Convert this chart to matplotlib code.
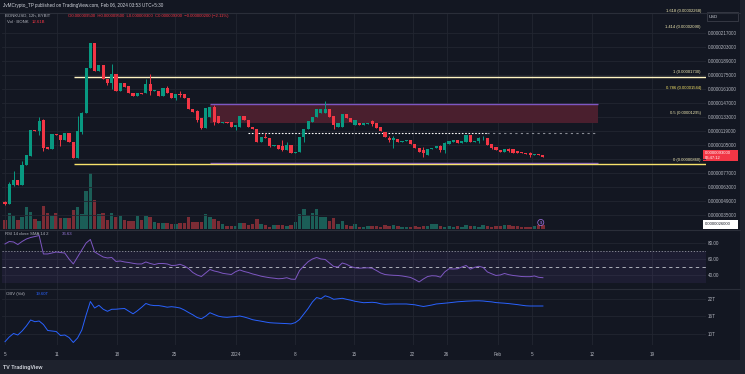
import matplotlib
matplotlib.use("Agg")
import matplotlib.pyplot as plt
from matplotlib.lines import Line2D
from matplotlib.patches import Rectangle
from matplotlib.ticker import FuncFormatter
import numpy as np

W, H = 745, 374
BG = "#131722"
PANEL = "#1e222d"
GRID = "#222631"
SEP = "#2a2e39"
TEXT = "#b2b5be"
GREEN = "#089981"
RED = "#f23645"
VOL_GREEN = "#1b5e57"
VOL_RED = "#7c2c35"
PURPLE = "#7e57c2"
BLUE = "#2962ff"

# candles, prices in 0.000001 USD
OPEN = [4.83, 4.60, 6.50, 7.00, 6.50, 8.50, 9.40, 12.00, 11.90, 13.00,
        10.30, 10.10, 11.60, 11.50, 11.00, 11.70, 10.80, 9.20, 11.80, 13.70,
        18.20, 20.70, 17.90, 18.50, 17.10, 16.70, 17.60, 15.90, 16.70, 16.40,
        15.70, 15.40, 15.70, 15.70, 16.60, 15.90, 15.90, 15.40, 16.20, 15.70,
        15.20, 15.60, 15.60, 15.20, 14.10, 13.90, 13.20, 12.20, 13.30, 14.30,
        13.40, 12.70, 12.80, 12.80, 12.30, 12.30, 13.40, 13.00, 12.30, 12.10,
        10.80, 11.30, 11.20, 10.40, 10.50, 10.40, 10.00, 10.50, 9.70, 9.80,
        11.30, 12.10, 12.80, 13.30, 13.70, 13.70, 14.10, 13.40, 12.30, 12.30,
        13.60, 13.20, 12.50, 12.70, 12.50, 12.60, 12.90, 12.70, 12.30, 11.80,
        11.20, 11.00, 11.10, 10.85, 10.95, 11.00, 10.60, 10.20, 10.00, 9.50,
        10.15, 10.20, 10.40, 10.00, 10.60, 10.80, 11.00, 10.70, 10.80, 11.50,
        10.85, 10.90, 11.05, 11.20, 10.60, 10.30, 10.00, 9.80, 10.10, 10.10,
        9.90, 9.80, 9.70, 9.70, 9.55, 9.60, 9.50]
HIGH = [4.90, 6.83, 7.90, 7.00, 8.90, 9.50, 12.00, 12.00, 13.30, 13.10,
        10.30, 11.60, 11.60, 11.50, 11.70, 11.70, 10.80, 13.40, 13.80, 18.20,
        20.70, 20.70, 18.50, 18.50, 17.10, 18.60, 17.60, 16.70, 16.70, 16.40,
        15.70, 15.70, 15.70, 17.10, 17.60, 16.00, 15.90, 16.20, 16.40, 15.70,
        15.60, 15.90, 15.60, 15.20, 14.10, 14.00, 13.20, 14.20, 14.30, 14.50,
        13.40, 12.80, 12.80, 12.80, 12.50, 13.40, 13.40, 13.00, 12.30, 12.10,
        11.30, 11.70, 11.20, 10.50, 10.50, 11.00, 10.80, 10.50, 9.80, 11.30,
        12.10, 12.90, 13.30, 14.10, 14.10, 14.90, 14.10, 13.40, 12.70, 13.60,
        13.60, 13.20, 13.00, 12.70, 12.70, 12.70, 13.00, 12.70, 12.30, 11.80,
        11.40, 11.40, 11.10, 10.90, 11.00, 11.00, 10.60, 10.20, 10.30, 10.10,
        10.20, 10.40, 10.50, 10.80, 10.90, 11.00, 11.00, 10.90, 11.50, 11.50,
        10.90, 11.30, 11.40, 11.20, 10.60, 10.30, 10.00, 10.10, 10.20, 10.10,
        9.90, 9.80, 9.70, 9.80, 9.60, 9.60, 9.50]
LOW = [4.50, 4.60, 6.40, 6.50, 6.50, 8.50, 9.40, 11.90, 11.50, 9.90,
       10.10, 10.10, 11.50, 10.40, 11.00, 10.80, 9.20, 9.20, 11.60, 13.70,
       18.20, 17.90, 17.90, 17.10, 16.50, 16.10, 15.90, 15.90, 16.30, 15.70,
       15.40, 15.40, 15.60, 15.70, 15.50, 15.90, 15.40, 15.40, 15.70, 15.20,
       15.00, 15.30, 15.20, 14.10, 13.80, 12.80, 12.10, 12.20, 13.30, 12.50,
       12.70, 12.70, 12.70, 12.30, 12.00, 12.30, 13.00, 12.30, 12.10, 10.80,
       10.80, 11.20, 10.30, 10.40, 10.10, 9.90, 10.00, 9.70, 9.70, 9.80,
       10.80, 12.10, 12.80, 13.30, 13.70, 13.70, 13.30, 12.10, 12.30, 12.30,
       13.20, 12.80, 12.50, 12.50, 12.50, 12.60, 12.40, 12.20, 11.90, 11.30,
       10.80, 10.20, 10.80, 10.85, 10.95, 10.60, 10.20, 9.80, 9.30, 9.50,
       10.15, 10.20, 9.80, 9.70, 10.60, 10.80, 10.70, 10.70, 10.80, 10.80,
       10.85, 10.70, 11.00, 10.50, 10.10, 10.00, 9.80, 9.80, 9.80, 9.70,
       9.70, 9.70, 9.65, 9.30, 9.55, 9.55, 9.30]
CLOSE = [4.60, 6.60, 7.00, 6.50, 8.50, 9.50, 12.00, 11.90, 12.90, 10.20,
         10.10, 11.60, 11.50, 11.00, 11.70, 10.80, 9.20, 11.90, 13.70, 18.20,
         20.70, 17.90, 18.50, 17.10, 16.70, 17.60, 15.90, 16.70, 16.30, 15.70,
         15.40, 15.70, 15.60, 16.60, 15.90, 16.00, 15.40, 16.20, 15.70, 15.20,
         15.60, 15.50, 15.20, 14.10, 13.80, 13.00, 12.20, 14.20, 14.30, 12.80,
         12.70, 12.80, 12.70, 12.30, 12.50, 13.40, 13.00, 12.30, 12.10, 10.80,
         11.30, 11.20, 10.40, 10.50, 10.10, 10.00, 10.50, 9.70, 9.80, 11.30,
         12.10, 12.90, 13.30, 14.10, 14.10, 14.10, 13.30, 12.50, 12.70, 13.60,
         13.20, 12.80, 13.00, 12.50, 12.70, 12.70, 12.60, 12.20, 11.90, 11.30,
         11.00, 11.20, 10.80, 10.90, 11.00, 10.60, 10.20, 9.80, 9.70, 10.10,
         10.20, 10.40, 10.00, 10.70, 10.90, 11.00, 10.70, 10.90, 11.50, 10.80,
         10.90, 11.20, 11.10, 10.50, 10.20, 10.00, 9.80, 10.10, 9.90, 9.70,
         9.70, 9.70, 9.65, 9.50, 9.60, 9.55, 9.30]
VOLUME = [9, 16, 13, 9, 12, 22, 17, 10, 8, 23, 16, 13, 16, 11, 11, 11, 19, 22, 15, 38,
          56, 29, 15, 16, 9, 16, 12, 13, 9, 8, 8, 13, 9, 13, 12, 7, 6, 6, 6, 5,
          5, 6, 6, 12, 7, 7, 7, 15, 12, 10, 8, 5, 3, 3, 3, 6, 6, 4, 5, 10,
          5, 4, 2, 4, 4, 4, 3, 4, 7, 15, 20, 14, 16, 20, 12, 12, 8, 11, 5, 8,
          4, 3, 5, 2, 2, 3, 3, 3, 2, 4, 3, 4, 3, 2, 2, 2, 3, 2, 3, 3,
          5, 5, 3, 2, 3, 2, 3, 2, 4, 3, 3, 2, 4, 3, 2, 3, 3, 4, 4, 3,
          3, 2, 2, 2, 3, 4, 4]
RSI = [78.8, 81.9, 81.3, 78.1, 81.9, 85.0, 86.9, 88.1, 89.4, 66.3,
       66.3, 67.5, 68.8, 68.1, 67.5, 60.0, 53.8, 62.5, 71.3, 80.0,
       84.4, 68.8, 65.6, 62.5, 61.3, 61.9, 56.9, 57.5, 56.3, 55.6,
       54.6, 53.8, 53.8, 56.3, 54.4, 53.1, 54.4, 54.4, 53.8, 51.9,
       52.1, 53.4, 51.3, 48.1, 43.1, 40.0, 38.1, 42.5, 46.9, 45.0,
       43.8, 42.1, 41.3, 40.6, 44.1, 46.3, 44.4, 43.1, 41.3, 40.0,
       38.5, 37.5, 36.6, 36.0, 35.3, 35.6, 36.6, 34.8, 34.6, 45.6,
       51.3, 56.6, 60.0, 61.9, 60.0, 59.4, 55.0, 50.6, 50.0, 55.0,
       53.4, 50.6, 49.0, 48.5, 48.8, 49.0, 48.5, 45.6, 42.5, 40.6,
       40.0, 39.6, 39.4, 38.8, 37.9, 36.9, 34.4, 31.3, 35.0, 38.1,
       39.1, 38.8, 37.3, 43.8, 47.8, 47.5, 47.8, 50.0, 51.9, 47.3,
       49.6, 50.9, 49.4, 43.8, 41.5, 39.4, 40.0, 41.9, 40.4, 39.4,
       38.8, 38.1, 37.9, 37.9, 38.8, 37.1, 36.6]
OBV = [7.35, 8.97, 10.17, 9.65, 11.02, 12.74, 14.80, 14.21, 14.45, 13.25,
       11.20, 11.02, 10.85, 9.48, 9.65, 8.79, 7.08, 8.62, 11.37, 16.51,
       21.14, 18.91, 19.84, 18.50, 17.78, 18.47, 18.50, 18.64, 18.74, 17.82,
       16.92, 17.95, 19.15, 20.46, 19.94, 19.74, 19.74, 19.50, 19.19, 19.36,
       19.19, 18.91, 18.23, 17.37, 16.58, 15.65, 15.21, 16.10, 17.30, 16.68,
       16.10, 15.83, 15.72, 15.86, 15.96, 16.17, 15.83, 15.41, 14.90, 14.63,
       14.39, 14.11, 13.87, 13.77, 13.70, 13.63, 13.56, 13.46, 13.90, 14.97,
       16.85, 18.74, 20.97, 22.51, 22.07, 23.10, 22.62, 21.90, 22.07, 22.24,
       21.90, 21.59, 21.21, 20.97, 20.73, 20.80, 20.87, 20.73, 20.35, 20.18,
       20.25, 20.29, 20.29, 20.29, 20.29, 20.15, 20.01, 19.70, 19.43, 19.67,
       19.94, 20.29, 20.42, 20.56, 20.70, 20.87, 21.04, 21.14, 21.25, 21.31,
       21.38, 21.38, 21.31, 21.14, 21.01, 20.77, 20.66, 20.56, 20.42, 20.25,
       20.08, 19.87, 19.67, 19.60, 19.60, 19.60, 19.60]

# drawn levels (0.000001 USD)
FIB_TOP = 17.27
FIB_BOTTOM = 8.60
ZONE_LINE_TOP = 14.60
ZONE_LINE_BOTTOM = 8.75
ZONE_FILL = (12.73, 14.50)
DOTTED_LEVEL = 11.67
FIB_LABELS = ["1.618 (0.00002268)", "1.414 (0.00002090)", "1 (0.00001730)",
              "0.786 (0.00001544)", "0.5 (0.00001295)", "0 (0.00000860)"]
FIB_LABEL_AT = [23.9, 22.3, 17.8, 16.2, 13.7, 9.0]

X_TICKS = [1, 13.2, 27.2, 40.8, 55.1, 68.9, 82.7, 96.5, 104.5, 116.5, 124.4, 138.5, 152.6]
X_LABELS = ["5", "11", "18", "25", "2024", "8", "15", "22", "26", "Feb", "5", "12", "19"]
PRICE_TICKS = [21.7, 20.3, 18.9, 17.5, 16.1, 14.7, 13.3, 11.9, 10.5, 9.1, 7.7, 6.3, 4.9, 3.5]
HIDDEN_TICK = 9.1  # sits under the last-price tag
RSI_TICKS = [80, 60, 40]
OBV_TICKS = [22, 16, 10]

XLIM = (0.3, 165.2)


def rect(x0, top, x1, bottom):
    return [x0 / W, 1 - bottom / H, (x1 - x0) / W, (bottom - top) / H]


def fig_text(fig, x, y, s, **kw):
    kw.setdefault("color", TEXT)
    kw.setdefault("fontsize", 3.3)
    kw.setdefault("va", "center")
    fig.text(x / W, 1 - y / H, s, **kw)


def fig_box(fig, x0, top, x1, bottom, **kw):
    fig.add_artist(Rectangle((x0 / W, 1 - bottom / H), (x1 - x0) / W, (bottom - top) / H,
                             transform=fig.transFigure, **kw))


def fig_hline(fig, y, x0=0, x1=740, color=SEP):
    fig.add_artist(Line2D([x0 / W, x1 / W], [1 - y / H] * 2, transform=fig.transFigure,
                          color=color, lw=0.8))


def style_pane(ax):
    ax.set_facecolor("none")
    ax.set_xlim(*XLIM)
    for s in ax.spines.values():
        s.set_visible(False)
    ax.set_xticks(X_TICKS)
    ax.yaxis.tick_right()
    ax.tick_params(axis="both", length=0, labelsize=3.3, labelcolor=TEXT, pad=1.5)
    ax.tick_params(axis="x", labelbottom=False)
    ax.grid(True, color=GRID, lw=0.6)
    ax.set_axisbelow(True)


def price_label(v, _):
    if abs(v - HIDDEN_TICK * 1e-6) < 1e-9:
        return ""
    return f"{v:.10f}"


def main():
    plt.rcParams["font.family"] = ["Liberation Sans", "DejaVu Sans"]
    fig = plt.figure(figsize=(W / 100, H / 100), dpi=100, facecolor=BG)

    idx = np.arange(1, len(OPEN) + 1)
    u = 1e-6
    o = np.array(OPEN) * u
    h = np.array(HIGH) * u
    l = np.array(LOW) * u
    c = np.array(CLOSE) * u
    up = c >= o
    colors = np.where(up, GREEN, RED)

    # volume sits behind the price pane
    vol_ax = fig.add_axes(rect(2, 13, 706, 229), label="vol")
    vol_ax.set_facecolor("none")
    vol_ax.set_xlim(*XLIM)
    vol_ax.set_ylim(0, 216)
    vol_ax.axis("off")
    vol_ax.bar(idx, VOLUME, width=0.82, color=np.where(up, VOL_GREEN, VOL_RED), lw=0)

    ax = fig.add_axes(rect(2, 13, 706, 229), label="price")
    style_pane(ax)
    ax.set_zorder(vol_ax.get_zorder() + 1)
    ax.set_ylim(2.1 * u, 23.7 * u)
    ax.set_yticks(np.array(PRICE_TICKS) * u)
    ax.yaxis.set_major_formatter(FuncFormatter(price_label))

    ax.add_patch(Rectangle((49.0, ZONE_FILL[0] * u), 90.8, (ZONE_FILL[1] - ZONE_FILL[0]) * u,
                           facecolor="#4a1f2e", edgecolor="none", zorder=1.5))
    ax.hlines([ZONE_LINE_TOP * u, ZONE_LINE_BOTTOM * u], 49.0, 139.8, color=PURPLE, lw=1.0, zorder=2)
    ax.hlines(FIB_TOP * u, 17.2, XLIM[1], color="#fff4c2", lw=1.0, zorder=2)
    ax.hlines(FIB_BOTTOM * u, 17.2, XLIM[1], color="#f7e36b", lw=1.0, zorder=2)
    ax.hlines(DOTTED_LEVEL * u, 57.9, 113.9, color="white", lw=0.8, ls=(0, (1.5, 1.5)), zorder=2)
    ax.hlines(DOTTED_LEVEL * u, 113.9, 139.5, color="#8a8d96", lw=0.8, ls=(0, (2, 3)), zorder=2)

    ax.vlines(idx, l, h, colors=colors, lw=0.7, zorder=3)
    body_low = np.minimum(o, c)
    body_h = np.maximum(np.abs(c - o), 0.08 * u)
    ax.bar(idx, body_h, bottom=body_low, width=0.74, color=colors, lw=0, zorder=4)

    for label, at in zip(FIB_LABELS, FIB_LABEL_AT):
        color = "#fbe96a" if label.startswith("0.786") else "#f3ecb4"
        ax.text(164.0, at * u, label, ha="right", va="center", fontsize=3.0,
                color=color, clip_on=False, zorder=5)

    ax.text(126.5, 2.75 * u, "$", ha="center", va="center", fontsize=3.0, color="#a374e8",
            bbox=dict(boxstyle="circle,pad=0.25", fc="none", ec="#a374e8", lw=0.5), zorder=5)

    # RSI pane
    rsi_ax = fig.add_axes(rect(2, 229.5, 706, 288.5), label="rsi")
    style_pane(rsi_ax)
    rsi_ax.set_ylim(23.1, 96.9)
    rsi_ax.set_yticks(RSI_TICKS)
    rsi_ax.yaxis.set_major_formatter(FuncFormatter(lambda v, _: f"{v:.2f}"))
    rsi_ax.axhspan(30, 70, color=PURPLE, alpha=0.1, lw=0)
    rsi_ax.axhline(70, color="#9598a1", lw=0.6, ls=(0, (1.5, 2)))
    rsi_ax.axhline(50, color="#c3c6ce", lw=0.6, ls=(0, (4, 4)))
    rsi_ax.plot(idx, RSI, color=PURPLE, lw=0.7)

    # OBV pane
    obv_ax = fig.add_axes(rect(2, 289, 706, 345), label="obv")
    style_pane(obv_ax)
    obv_ax.set_ylim(6.22, 25.43)
    obv_ax.set_yticks(OBV_TICKS)
    obv_ax.yaxis.set_major_formatter(FuncFormatter(lambda v, _: f"{v:.0f}T"))
    obv_ax.plot(idx, OBV, color=BLUE, lw=0.7)
    obv_ax.tick_params(axis="x", labelbottom=True, pad=5)
    obv_ax.set_xticklabels(X_LABELS)

    # frame pieces
    fig_box(fig, 0, 360, 745, 374, facecolor=PANEL, edgecolor="none")
    fig_box(fig, 740, 0, 745, 360, facecolor=PANEL, edgecolor="none")
    fig_hline(fig, 12.5)
    fig_hline(fig, 229.5)
    fig_hline(fig, 288.5)

    fig_text(fig, 3, 5.5, "JvMCrypto_TP published on TradingView.com, Feb 06, 2024 03:53 UTC+5:30",
             color="#d1d4dc", fontsize=3.3)
    fig_text(fig, 5, 16, "BONKUSD, 12h, BYBIT", fontsize=3.1)
    fig_text(fig, 68, 16, "O0.000009500  H0.000009500  L0.000009300  C0.000009300  "
             "\u22120.000000200 (\u22122.11%)", color=RED, fontsize=3.1)
    fig_text(fig, 7, 22, "Vol \u00b7 BONK", fontsize=3.1)
    fig_text(fig, 32, 22, "12.61B", color=RED, fontsize=3.1)
    fig_text(fig, 5, 233.5, "RSI 14 close SMA 14 2", fontsize=3.1)
    fig_text(fig, 62, 233.5, "36.63", color="#9c7ce0", fontsize=3.1)
    fig_text(fig, 6, 294, "OBV (Vol)", fontsize=3.1)
    fig_text(fig, 36, 294, "19.60T", color=BLUE, fontsize=3.1)
    fig_text(fig, 3, 367, "TV TradingView", color="#d1d4dc", fontsize=3.8, weight="bold")

    fig_box(fig, 707, 12, 738, 21, facecolor=BG, edgecolor="#434651", lw=0.5)
    fig_text(fig, 709, 16.5, "USD", color="#d1d4dc", fontsize=3.1)
    fig_box(fig, 703, 150, 738, 161, facecolor=RED, edgecolor="none")
    fig_text(fig, 705, 153, "0.0000093000", color="white", fontsize=3.0)
    fig_text(fig, 705, 158.3, "06:47:12", color="white", fontsize=3.0)
    fig_box(fig, 703, 220, 738, 228.5, facecolor="white", edgecolor="none")
    fig_text(fig, 705, 224.3, "0.0000026000", color=BG, fontsize=3.0)

    fig.savefig("out.png", dpi=100, facecolor=BG)
    plt.close(fig)


if __name__ == "__main__":
    main()
